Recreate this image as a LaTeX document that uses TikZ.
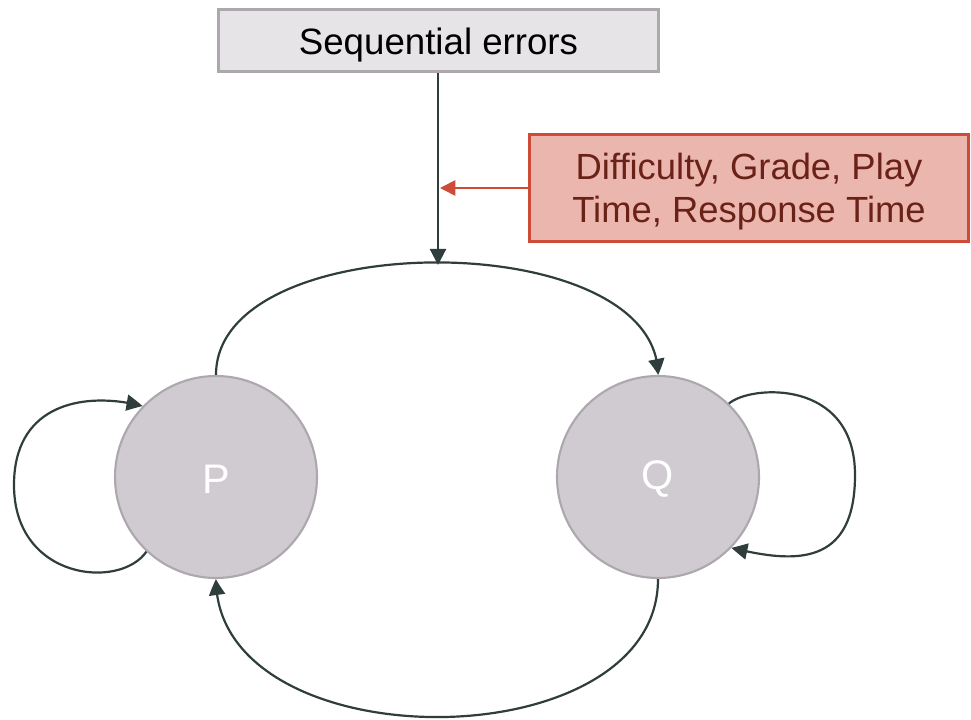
\documentclass[tikz,border=0pt]{standalone}
\usepackage{fontspec}
\setmainfont{Liberation Sans}
\usetikzlibrary{arrows.meta,bending}
\definecolor{boxfill}{HTML}{E7E4E8}
\definecolor{boxline}{HTML}{ADA8AD}
\definecolor{circfill}{HTML}{D0CBD0}
\definecolor{darkline}{HTML}{2F3D3D}
\definecolor{redfill}{HTML}{EBB6AE}
\definecolor{redline}{HTML}{CE4B37}
\definecolor{redtext}{HTML}{6A2218}
\begin{document}
\begin{tikzpicture}[x=0.75pt,y=-0.75pt,
  topbox/.style={draw=boxline, fill=boxfill, line width=2.2pt, minimum width=440*0.75pt, minimum height=62*0.75pt, inner sep=0pt, font=\fontsize{27.5}{33}\selectfont, text=black},
  redbox/.style={draw=redline, fill=redfill, line width=2.2pt, minimum width=439*0.75pt, minimum height=107*0.75pt, inner sep=0pt, align=center, font=\fontsize{27.3}{32.3}\selectfont, text=redtext},
  state/.style={circle, draw=boxline, fill=circfill, line width=1.6pt, minimum size=202*0.75pt, inner sep=0pt, font=\fontsize{31}{36}\selectfont, text=white},
  arr/.style={draw=darkline, line width=1.65pt, -{Triangle[length=12pt, width=12pt, bend]}},
  redarr/.style={draw=redline, line width=1.3pt, -{Triangle[length=11.5pt, width=11.5pt]}}
]
\useasboundingbox (0,0) rectangle (971,720);

\node[topbox] (seq) at (438.5,40.5) {\rule{0pt}{27pt}Sequential errors};
\node[redbox] (feat) at (749,188) {\rule{0pt}{24.5pt}Difficulty, Grade, Play\\Time, Response Time};
\node[state] (P) at (216,477) {\rule{0pt}{25pt}P};
\node[state] (Q) at (658,477) {\rule{0pt}{25pt}Q};

\coordinate (top) at (438,265);
\coordinate (hit) at (440,188);

% top arc P -> Q
\draw[arr] (P.north) .. controls +(0,-150) and +(0,-150) .. (Q.north);
% vertical arrow
\draw[arr] (seq.south -| top) -- (top);
% red arrow
\draw[redarr] (feat.west |- hit) -- (hit);
% bottom arc Q -> P
\draw[arr] (Q.south) .. controls +(0,184) and +(0,184) .. (P.south);
% P self loop
\draw[arr] (P.-133) .. controls (120,590) and (14,580) .. (14,485)
  .. controls (14,400) and (90,392) .. (P.136);
% Q self loop
\draw[arr] (Q.46) .. controls (750,385) and (855,378) .. (855,475)
  .. controls (855,570) and (790,562) .. (Q.-44);
\end{tikzpicture}
\end{document}
